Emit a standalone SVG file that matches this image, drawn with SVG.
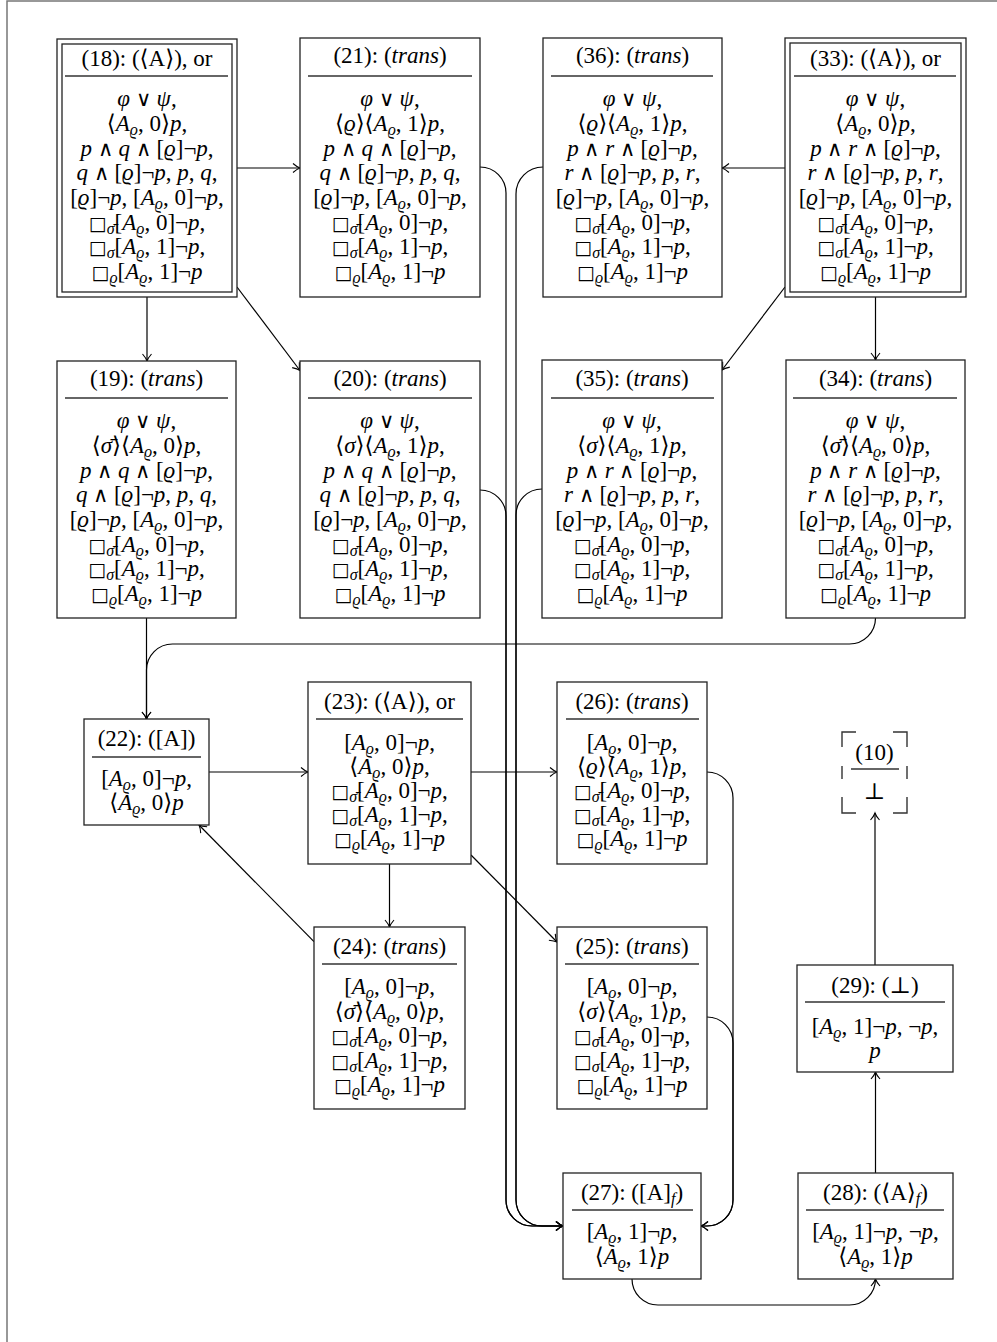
<svg xmlns="http://www.w3.org/2000/svg" width="997" height="1342" viewBox="0 0 997 1342">
<style>
.bx{fill:#fff;stroke:#222;stroke-width:1.3}
.sp{stroke:#333;stroke-width:1.4}
.t{font-family:"Liberation Serif","DejaVu Serif","DejaVu Sans",serif;font-size:23px;text-anchor:middle;fill:#000}
.i{font-style:italic}
.s{font-size:16px}
.q{font-family:"DejaVu Sans",sans-serif;font-size:19px;font-style:normal;fill:#000}
.o{font-family:"DejaVu Sans",sans-serif;font-weight:200;font-size:21px}
.c{fill:none;stroke:#000;stroke-width:1.2;marker-end:url(#ah)}
.fr{fill:none;stroke:#777;stroke-width:1.5}
.dh{fill:none;stroke:#333;stroke-width:1.4}
</style>
<defs>
<marker id="ah" markerUnits="userSpaceOnUse" viewBox="-9 -6 10 12" refX="0" refY="0" markerWidth="10" markerHeight="12" orient="auto" overflow="visible">
<path d="M-7,-4.5 Q-3,-1 0,0 Q-3,1 -7,4.5" fill="none" stroke="#000" stroke-width="1.1"/>
</marker>
</defs>
<rect x="0" y="0" width="997" height="1342" fill="#fff"/>
<path class="fr" d="M7,1342 V1 H997"/>

<g id="connectors">
<path class="c" d="M237,168 H300"/>
<path class="c" d="M147,297 V361"/>
<path class="c" d="M237,287 L300,370.5"/>
<path class="c" d="M785,168 H722"/>
<path class="c" d="M875.5,297 V360"/>
<path class="c" d="M785,287 L722,370"/>
<path class="c" d="M480,167 A26,26 0 0 1 506,193 V1200 A26,26 0 0 0 532,1226 H563"/>
<path class="c" d="M480,490 A26,26 0 0 1 506,516 V1200 A26,26 0 0 0 532,1226 H563"/>
<path class="c" d="M543,167 A27,27 0 0 0 516,194 V1200 A26,26 0 0 0 542,1226 H563"/>
<path class="c" d="M542,489 A26,26 0 0 0 516,515 V1200 A26,26 0 0 0 542,1226 H563"/>
<path class="c" d="M707,772 A26,26 0 0 1 733,798 V1200 A26,26 0 0 1 707,1226 H701"/>
<path class="c" d="M707,1017 A26,26 0 0 1 733,1043 V1200 A26,26 0 0 1 707,1226 H701"/>
<path class="c" d="M209,772 H308"/>
<path class="c" d="M471,772 H557"/>
<path class="c" d="M389.5,864 V927"/>
<path class="c" d="M471,855 L557,942"/>
<path class="c" d="M314,941.6 L199,825"/>
<path class="c" d="M146.5,618 V719"/>
<path class="c" d="M875.5,618 A26,26 0 0 1 849.5,644 H172.5 A26,26 0 0 0 146.5,670 V719"/>
<path class="c" d="M632,1279 A26,26 0 0 0 658,1305 H849.5 A26,26 0 0 0 875.5,1279"/>
<path class="c" d="M875.5,1173 V1072"/>
<path class="c" d="M875,965 V813"/>
</g>

<g id="n18">
<rect class="bx" x="57" y="39" width="180" height="258"/>
<rect class="bx" x="62" y="44" width="170" height="248"/>
<text class="t" x="147" y="66">(18): (⟨A⟩), or</text>
<line class="sp" x1="65" y1="76" x2="228" y2="76"/>
<text class="t" x="147" y="106"><tspan class="i">φ</tspan> <tspan class="o">∨</tspan> <tspan class="i">ψ</tspan>,</text>
<text class="t" x="147" y="131">⟨<tspan class="i">A</tspan><tspan class="s i" dy="4">ϱ</tspan><tspan dy="-4">, 0⟩</tspan><tspan class="i">p</tspan>,</text>
<text class="t" x="147" y="155.5"><tspan class="i">p</tspan> <tspan class="o">∧</tspan> <tspan class="i">q</tspan> <tspan class="o">∧</tspan> [<tspan class="i">ϱ</tspan>]¬<tspan class="i">p</tspan>,</text>
<text class="t" x="147" y="180"><tspan class="i">q</tspan> <tspan class="o">∧</tspan> [<tspan class="i">ϱ</tspan>]¬<tspan class="i">p</tspan>, <tspan class="i">p</tspan>, <tspan class="i">q</tspan>,</text>
<text class="t" x="147" y="205">[<tspan class="i">ϱ</tspan>]¬<tspan class="i">p</tspan>, [<tspan class="i">A</tspan><tspan class="s i" dy="4">ϱ</tspan><tspan dy="-4">, 0]¬</tspan><tspan class="i">p</tspan>,</text>
<text class="t" x="147" y="229.5"><tspan class="q">□</tspan><tspan class="s i" dy="4">σ̄</tspan><tspan dy="-4">[</tspan><tspan class="i">A</tspan><tspan class="s i" dy="4">ϱ</tspan><tspan dy="-4">, 0]¬</tspan><tspan class="i">p</tspan>,</text>
<text class="t" x="147" y="254"><tspan class="q">□</tspan><tspan class="s i" dy="4">σ</tspan><tspan dy="-4">[</tspan><tspan class="i">A</tspan><tspan class="s i" dy="4">ϱ</tspan><tspan dy="-4">, 1]¬</tspan><tspan class="i">p</tspan>,</text>
<text class="t" x="147" y="279"><tspan class="q">□</tspan><tspan class="s i" dy="4">ϱ</tspan><tspan dy="-4">[</tspan><tspan class="i">A</tspan><tspan class="s i" dy="4">ϱ</tspan><tspan dy="-4">, 1]¬</tspan><tspan class="i">p</tspan></text>
</g>

<g id="n21">
<rect class="bx" x="300" y="38" width="180" height="259"/>
<text class="t" x="390" y="63">(21): (<tspan class="i">trans</tspan>)</text>
<line class="sp" x1="308" y1="76" x2="472" y2="76"/>
<text class="t" x="390" y="106"><tspan class="i">φ</tspan> <tspan class="o">∨</tspan> <tspan class="i">ψ</tspan>,</text>
<text class="t" x="390" y="131">⟨<tspan class="i">ϱ</tspan>⟩⟨<tspan class="i">A</tspan><tspan class="s i" dy="4">ϱ</tspan><tspan dy="-4">, 1⟩</tspan><tspan class="i">p</tspan>,</text>
<text class="t" x="390" y="155.5"><tspan class="i">p</tspan> <tspan class="o">∧</tspan> <tspan class="i">q</tspan> <tspan class="o">∧</tspan> [<tspan class="i">ϱ</tspan>]¬<tspan class="i">p</tspan>,</text>
<text class="t" x="390" y="180"><tspan class="i">q</tspan> <tspan class="o">∧</tspan> [<tspan class="i">ϱ</tspan>]¬<tspan class="i">p</tspan>, <tspan class="i">p</tspan>, <tspan class="i">q</tspan>,</text>
<text class="t" x="390" y="205">[<tspan class="i">ϱ</tspan>]¬<tspan class="i">p</tspan>, [<tspan class="i">A</tspan><tspan class="s i" dy="4">ϱ</tspan><tspan dy="-4">, 0]¬</tspan><tspan class="i">p</tspan>,</text>
<text class="t" x="390" y="229.5"><tspan class="q">□</tspan><tspan class="s i" dy="4">σ̄</tspan><tspan dy="-4">[</tspan><tspan class="i">A</tspan><tspan class="s i" dy="4">ϱ</tspan><tspan dy="-4">, 0]¬</tspan><tspan class="i">p</tspan>,</text>
<text class="t" x="390" y="254"><tspan class="q">□</tspan><tspan class="s i" dy="4">σ</tspan><tspan dy="-4">[</tspan><tspan class="i">A</tspan><tspan class="s i" dy="4">ϱ</tspan><tspan dy="-4">, 1]¬</tspan><tspan class="i">p</tspan>,</text>
<text class="t" x="390" y="279"><tspan class="q">□</tspan><tspan class="s i" dy="4">ϱ</tspan><tspan dy="-4">[</tspan><tspan class="i">A</tspan><tspan class="s i" dy="4">ϱ</tspan><tspan dy="-4">, 1]¬</tspan><tspan class="i">p</tspan></text>
</g>

<g id="n36">
<rect class="bx" x="543" y="38" width="179" height="259"/>
<text class="t" x="632.5" y="63">(36): (<tspan class="i">trans</tspan>)</text>
<line class="sp" x1="551" y1="76" x2="713" y2="76"/>
<text class="t" x="632.5" y="106"><tspan class="i">φ</tspan> <tspan class="o">∨</tspan> <tspan class="i">ψ</tspan>,</text>
<text class="t" x="632.5" y="131">⟨<tspan class="i">ϱ</tspan>⟩⟨<tspan class="i">A</tspan><tspan class="s i" dy="4">ϱ</tspan><tspan dy="-4">, 1⟩</tspan><tspan class="i">p</tspan>,</text>
<text class="t" x="632.5" y="155.5"><tspan class="i">p</tspan> <tspan class="o">∧</tspan> <tspan class="i">r</tspan> <tspan class="o">∧</tspan> [<tspan class="i">ϱ</tspan>]¬<tspan class="i">p</tspan>,</text>
<text class="t" x="632.5" y="180"><tspan class="i">r</tspan> <tspan class="o">∧</tspan> [<tspan class="i">ϱ</tspan>]¬<tspan class="i">p</tspan>, <tspan class="i">p</tspan>, <tspan class="i">r</tspan>,</text>
<text class="t" x="632.5" y="205">[<tspan class="i">ϱ</tspan>]¬<tspan class="i">p</tspan>, [<tspan class="i">A</tspan><tspan class="s i" dy="4">ϱ</tspan><tspan dy="-4">, 0]¬</tspan><tspan class="i">p</tspan>,</text>
<text class="t" x="632.5" y="229.5"><tspan class="q">□</tspan><tspan class="s i" dy="4">σ̄</tspan><tspan dy="-4">[</tspan><tspan class="i">A</tspan><tspan class="s i" dy="4">ϱ</tspan><tspan dy="-4">, 0]¬</tspan><tspan class="i">p</tspan>,</text>
<text class="t" x="632.5" y="254"><tspan class="q">□</tspan><tspan class="s i" dy="4">σ</tspan><tspan dy="-4">[</tspan><tspan class="i">A</tspan><tspan class="s i" dy="4">ϱ</tspan><tspan dy="-4">, 1]¬</tspan><tspan class="i">p</tspan>,</text>
<text class="t" x="632.5" y="279"><tspan class="q">□</tspan><tspan class="s i" dy="4">ϱ</tspan><tspan dy="-4">[</tspan><tspan class="i">A</tspan><tspan class="s i" dy="4">ϱ</tspan><tspan dy="-4">, 1]¬</tspan><tspan class="i">p</tspan></text>
</g>

<g id="n33">
<rect class="bx" x="785" y="38" width="181" height="259"/>
<rect class="bx" x="790" y="43" width="171" height="249"/>
<text class="t" x="875.5" y="66">(33): (⟨A⟩), or</text>
<line class="sp" x1="794" y1="76" x2="956" y2="76"/>
<text class="t" x="875.5" y="106"><tspan class="i">φ</tspan> <tspan class="o">∨</tspan> <tspan class="i">ψ</tspan>,</text>
<text class="t" x="875.5" y="131">⟨<tspan class="i">A</tspan><tspan class="s i" dy="4">ϱ</tspan><tspan dy="-4">, 0⟩</tspan><tspan class="i">p</tspan>,</text>
<text class="t" x="875.5" y="155.5"><tspan class="i">p</tspan> <tspan class="o">∧</tspan> <tspan class="i">r</tspan> <tspan class="o">∧</tspan> [<tspan class="i">ϱ</tspan>]¬<tspan class="i">p</tspan>,</text>
<text class="t" x="875.5" y="180"><tspan class="i">r</tspan> <tspan class="o">∧</tspan> [<tspan class="i">ϱ</tspan>]¬<tspan class="i">p</tspan>, <tspan class="i">p</tspan>, <tspan class="i">r</tspan>,</text>
<text class="t" x="875.5" y="205">[<tspan class="i">ϱ</tspan>]¬<tspan class="i">p</tspan>, [<tspan class="i">A</tspan><tspan class="s i" dy="4">ϱ</tspan><tspan dy="-4">, 0]¬</tspan><tspan class="i">p</tspan>,</text>
<text class="t" x="875.5" y="229.5"><tspan class="q">□</tspan><tspan class="s i" dy="4">σ̄</tspan><tspan dy="-4">[</tspan><tspan class="i">A</tspan><tspan class="s i" dy="4">ϱ</tspan><tspan dy="-4">, 0]¬</tspan><tspan class="i">p</tspan>,</text>
<text class="t" x="875.5" y="254"><tspan class="q">□</tspan><tspan class="s i" dy="4">σ</tspan><tspan dy="-4">[</tspan><tspan class="i">A</tspan><tspan class="s i" dy="4">ϱ</tspan><tspan dy="-4">, 1]¬</tspan><tspan class="i">p</tspan>,</text>
<text class="t" x="875.5" y="279"><tspan class="q">□</tspan><tspan class="s i" dy="4">ϱ</tspan><tspan dy="-4">[</tspan><tspan class="i">A</tspan><tspan class="s i" dy="4">ϱ</tspan><tspan dy="-4">, 1]¬</tspan><tspan class="i">p</tspan></text>
</g>

<g id="n19">
<rect class="bx" x="57" y="361" width="179" height="257"/>
<text class="t" x="146.5" y="386">(19): (<tspan class="i">trans</tspan>)</text>
<line class="sp" x1="65" y1="398" x2="228" y2="398"/>
<text class="t" x="146.5" y="428"><tspan class="i">φ</tspan> <tspan class="o">∨</tspan> <tspan class="i">ψ</tspan>,</text>
<text class="t" x="146.5" y="453">⟨<tspan class="i">σ̄</tspan>⟩⟨<tspan class="i">A</tspan><tspan class="s i" dy="4">ϱ</tspan><tspan dy="-4">, 0⟩</tspan><tspan class="i">p</tspan>,</text>
<text class="t" x="146.5" y="477.5"><tspan class="i">p</tspan> <tspan class="o">∧</tspan> <tspan class="i">q</tspan> <tspan class="o">∧</tspan> [<tspan class="i">ϱ</tspan>]¬<tspan class="i">p</tspan>,</text>
<text class="t" x="146.5" y="502"><tspan class="i">q</tspan> <tspan class="o">∧</tspan> [<tspan class="i">ϱ</tspan>]¬<tspan class="i">p</tspan>, <tspan class="i">p</tspan>, <tspan class="i">q</tspan>,</text>
<text class="t" x="146.5" y="527">[<tspan class="i">ϱ</tspan>]¬<tspan class="i">p</tspan>, [<tspan class="i">A</tspan><tspan class="s i" dy="4">ϱ</tspan><tspan dy="-4">, 0]¬</tspan><tspan class="i">p</tspan>,</text>
<text class="t" x="146.5" y="551.5"><tspan class="q">□</tspan><tspan class="s i" dy="4">σ̄</tspan><tspan dy="-4">[</tspan><tspan class="i">A</tspan><tspan class="s i" dy="4">ϱ</tspan><tspan dy="-4">, 0]¬</tspan><tspan class="i">p</tspan>,</text>
<text class="t" x="146.5" y="576"><tspan class="q">□</tspan><tspan class="s i" dy="4">σ</tspan><tspan dy="-4">[</tspan><tspan class="i">A</tspan><tspan class="s i" dy="4">ϱ</tspan><tspan dy="-4">, 1]¬</tspan><tspan class="i">p</tspan>,</text>
<text class="t" x="146.5" y="601"><tspan class="q">□</tspan><tspan class="s i" dy="4">ϱ</tspan><tspan dy="-4">[</tspan><tspan class="i">A</tspan><tspan class="s i" dy="4">ϱ</tspan><tspan dy="-4">, 1]¬</tspan><tspan class="i">p</tspan></text>
</g>

<g id="n20">
<rect class="bx" x="300" y="361" width="180" height="257"/>
<text class="t" x="390" y="386">(20): (<tspan class="i">trans</tspan>)</text>
<line class="sp" x1="308" y1="398" x2="472" y2="398"/>
<text class="t" x="390" y="428"><tspan class="i">φ</tspan> <tspan class="o">∨</tspan> <tspan class="i">ψ</tspan>,</text>
<text class="t" x="390" y="453">⟨<tspan class="i">σ</tspan>⟩⟨<tspan class="i">A</tspan><tspan class="s i" dy="4">ϱ</tspan><tspan dy="-4">, 1⟩</tspan><tspan class="i">p</tspan>,</text>
<text class="t" x="390" y="477.5"><tspan class="i">p</tspan> <tspan class="o">∧</tspan> <tspan class="i">q</tspan> <tspan class="o">∧</tspan> [<tspan class="i">ϱ</tspan>]¬<tspan class="i">p</tspan>,</text>
<text class="t" x="390" y="502"><tspan class="i">q</tspan> <tspan class="o">∧</tspan> [<tspan class="i">ϱ</tspan>]¬<tspan class="i">p</tspan>, <tspan class="i">p</tspan>, <tspan class="i">q</tspan>,</text>
<text class="t" x="390" y="527">[<tspan class="i">ϱ</tspan>]¬<tspan class="i">p</tspan>, [<tspan class="i">A</tspan><tspan class="s i" dy="4">ϱ</tspan><tspan dy="-4">, 0]¬</tspan><tspan class="i">p</tspan>,</text>
<text class="t" x="390" y="551.5"><tspan class="q">□</tspan><tspan class="s i" dy="4">σ̄</tspan><tspan dy="-4">[</tspan><tspan class="i">A</tspan><tspan class="s i" dy="4">ϱ</tspan><tspan dy="-4">, 0]¬</tspan><tspan class="i">p</tspan>,</text>
<text class="t" x="390" y="576"><tspan class="q">□</tspan><tspan class="s i" dy="4">σ</tspan><tspan dy="-4">[</tspan><tspan class="i">A</tspan><tspan class="s i" dy="4">ϱ</tspan><tspan dy="-4">, 1]¬</tspan><tspan class="i">p</tspan>,</text>
<text class="t" x="390" y="601"><tspan class="q">□</tspan><tspan class="s i" dy="4">ϱ</tspan><tspan dy="-4">[</tspan><tspan class="i">A</tspan><tspan class="s i" dy="4">ϱ</tspan><tspan dy="-4">, 1]¬</tspan><tspan class="i">p</tspan></text>
</g>

<g id="n35">
<rect class="bx" x="542" y="360" width="180" height="258"/>
<text class="t" x="632" y="386">(35): (<tspan class="i">trans</tspan>)</text>
<line class="sp" x1="551" y1="398" x2="714" y2="398"/>
<text class="t" x="632" y="428"><tspan class="i">φ</tspan> <tspan class="o">∨</tspan> <tspan class="i">ψ</tspan>,</text>
<text class="t" x="632" y="453">⟨<tspan class="i">σ</tspan>⟩⟨<tspan class="i">A</tspan><tspan class="s i" dy="4">ϱ</tspan><tspan dy="-4">, 1⟩</tspan><tspan class="i">p</tspan>,</text>
<text class="t" x="632" y="477.5"><tspan class="i">p</tspan> <tspan class="o">∧</tspan> <tspan class="i">r</tspan> <tspan class="o">∧</tspan> [<tspan class="i">ϱ</tspan>]¬<tspan class="i">p</tspan>,</text>
<text class="t" x="632" y="502"><tspan class="i">r</tspan> <tspan class="o">∧</tspan> [<tspan class="i">ϱ</tspan>]¬<tspan class="i">p</tspan>, <tspan class="i">p</tspan>, <tspan class="i">r</tspan>,</text>
<text class="t" x="632" y="527">[<tspan class="i">ϱ</tspan>]¬<tspan class="i">p</tspan>, [<tspan class="i">A</tspan><tspan class="s i" dy="4">ϱ</tspan><tspan dy="-4">, 0]¬</tspan><tspan class="i">p</tspan>,</text>
<text class="t" x="632" y="551.5"><tspan class="q">□</tspan><tspan class="s i" dy="4">σ̄</tspan><tspan dy="-4">[</tspan><tspan class="i">A</tspan><tspan class="s i" dy="4">ϱ</tspan><tspan dy="-4">, 0]¬</tspan><tspan class="i">p</tspan>,</text>
<text class="t" x="632" y="576"><tspan class="q">□</tspan><tspan class="s i" dy="4">σ</tspan><tspan dy="-4">[</tspan><tspan class="i">A</tspan><tspan class="s i" dy="4">ϱ</tspan><tspan dy="-4">, 1]¬</tspan><tspan class="i">p</tspan>,</text>
<text class="t" x="632" y="601"><tspan class="q">□</tspan><tspan class="s i" dy="4">ϱ</tspan><tspan dy="-4">[</tspan><tspan class="i">A</tspan><tspan class="s i" dy="4">ϱ</tspan><tspan dy="-4">, 1]¬</tspan><tspan class="i">p</tspan></text>
</g>

<g id="n34">
<rect class="bx" x="786" y="360" width="179" height="258"/>
<text class="t" x="875.5" y="386">(34): (<tspan class="i">trans</tspan>)</text>
<line class="sp" x1="793" y1="398" x2="957" y2="398"/>
<text class="t" x="875.5" y="428"><tspan class="i">φ</tspan> <tspan class="o">∨</tspan> <tspan class="i">ψ</tspan>,</text>
<text class="t" x="875.5" y="453">⟨<tspan class="i">σ̄</tspan>⟩⟨<tspan class="i">A</tspan><tspan class="s i" dy="4">ϱ</tspan><tspan dy="-4">, 0⟩</tspan><tspan class="i">p</tspan>,</text>
<text class="t" x="875.5" y="477.5"><tspan class="i">p</tspan> <tspan class="o">∧</tspan> <tspan class="i">r</tspan> <tspan class="o">∧</tspan> [<tspan class="i">ϱ</tspan>]¬<tspan class="i">p</tspan>,</text>
<text class="t" x="875.5" y="502"><tspan class="i">r</tspan> <tspan class="o">∧</tspan> [<tspan class="i">ϱ</tspan>]¬<tspan class="i">p</tspan>, <tspan class="i">p</tspan>, <tspan class="i">r</tspan>,</text>
<text class="t" x="875.5" y="527">[<tspan class="i">ϱ</tspan>]¬<tspan class="i">p</tspan>, [<tspan class="i">A</tspan><tspan class="s i" dy="4">ϱ</tspan><tspan dy="-4">, 0]¬</tspan><tspan class="i">p</tspan>,</text>
<text class="t" x="875.5" y="551.5"><tspan class="q">□</tspan><tspan class="s i" dy="4">σ̄</tspan><tspan dy="-4">[</tspan><tspan class="i">A</tspan><tspan class="s i" dy="4">ϱ</tspan><tspan dy="-4">, 0]¬</tspan><tspan class="i">p</tspan>,</text>
<text class="t" x="875.5" y="576"><tspan class="q">□</tspan><tspan class="s i" dy="4">σ</tspan><tspan dy="-4">[</tspan><tspan class="i">A</tspan><tspan class="s i" dy="4">ϱ</tspan><tspan dy="-4">, 1]¬</tspan><tspan class="i">p</tspan>,</text>
<text class="t" x="875.5" y="601"><tspan class="q">□</tspan><tspan class="s i" dy="4">ϱ</tspan><tspan dy="-4">[</tspan><tspan class="i">A</tspan><tspan class="s i" dy="4">ϱ</tspan><tspan dy="-4">, 1]¬</tspan><tspan class="i">p</tspan></text>
</g>

<g id="n22">
<rect class="bx" x="84" y="719" width="125" height="106"/>
<text class="t" x="146.5" y="746">(22): ([A])</text>
<line class="sp" x1="92" y1="757" x2="201" y2="757"/>
<text class="t" x="146.5" y="786">[<tspan class="i">A</tspan><tspan class="s i" dy="4">ϱ</tspan><tspan dy="-4">, 0]¬</tspan><tspan class="i">p</tspan>,</text>
<text class="t" x="146.5" y="810">⟨<tspan class="i">A</tspan><tspan class="s i" dy="4">ϱ</tspan><tspan dy="-4">, 0⟩</tspan><tspan class="i">p</tspan></text>
</g>

<g id="n23">
<rect class="bx" x="308" y="682" width="163" height="182"/>
<text class="t" x="389.5" y="709">(23): (⟨A⟩), or</text>
<line class="sp" x1="316" y1="719" x2="463" y2="719"/>
<text class="t" x="389.5" y="750">[<tspan class="i">A</tspan><tspan class="s i" dy="4">ϱ</tspan><tspan dy="-4">, 0]¬</tspan><tspan class="i">p</tspan>,</text>
<text class="t" x="389.5" y="774">⟨<tspan class="i">A</tspan><tspan class="s i" dy="4">ϱ</tspan><tspan dy="-4">, 0⟩</tspan><tspan class="i">p</tspan>,</text>
<text class="t" x="389.5" y="798"><tspan class="q">□</tspan><tspan class="s i" dy="4">σ̄</tspan><tspan dy="-4">[</tspan><tspan class="i">A</tspan><tspan class="s i" dy="4">ϱ</tspan><tspan dy="-4">, 0]¬</tspan><tspan class="i">p</tspan>,</text>
<text class="t" x="389.5" y="822"><tspan class="q">□</tspan><tspan class="s i" dy="4">σ</tspan><tspan dy="-4">[</tspan><tspan class="i">A</tspan><tspan class="s i" dy="4">ϱ</tspan><tspan dy="-4">, 1]¬</tspan><tspan class="i">p</tspan>,</text>
<text class="t" x="389.5" y="846"><tspan class="q">□</tspan><tspan class="s i" dy="4">ϱ</tspan><tspan dy="-4">[</tspan><tspan class="i">A</tspan><tspan class="s i" dy="4">ϱ</tspan><tspan dy="-4">, 1]¬</tspan><tspan class="i">p</tspan></text>
</g>

<g id="n26">
<rect class="bx" x="557" y="682" width="150" height="182"/>
<text class="t" x="632" y="709">(26): (<tspan class="i">trans</tspan>)</text>
<line class="sp" x1="566" y1="719" x2="699" y2="719"/>
<text class="t" x="632" y="750">[<tspan class="i">A</tspan><tspan class="s i" dy="4">ϱ</tspan><tspan dy="-4">, 0]¬</tspan><tspan class="i">p</tspan>,</text>
<text class="t" x="632" y="774">⟨<tspan class="i">ϱ</tspan>⟩⟨<tspan class="i">A</tspan><tspan class="s i" dy="4">ϱ</tspan><tspan dy="-4">, 1⟩</tspan><tspan class="i">p</tspan>,</text>
<text class="t" x="632" y="798"><tspan class="q">□</tspan><tspan class="s i" dy="4">σ̄</tspan><tspan dy="-4">[</tspan><tspan class="i">A</tspan><tspan class="s i" dy="4">ϱ</tspan><tspan dy="-4">, 0]¬</tspan><tspan class="i">p</tspan>,</text>
<text class="t" x="632" y="822"><tspan class="q">□</tspan><tspan class="s i" dy="4">σ</tspan><tspan dy="-4">[</tspan><tspan class="i">A</tspan><tspan class="s i" dy="4">ϱ</tspan><tspan dy="-4">, 1]¬</tspan><tspan class="i">p</tspan>,</text>
<text class="t" x="632" y="846"><tspan class="q">□</tspan><tspan class="s i" dy="4">ϱ</tspan><tspan dy="-4">[</tspan><tspan class="i">A</tspan><tspan class="s i" dy="4">ϱ</tspan><tspan dy="-4">, 1]¬</tspan><tspan class="i">p</tspan></text>
</g>

<g id="n10">
<path class="dh" d="M842,747 V732 H856 M893,732 H907 V747 M842,797 V813 H856 M893,813 H907 V797 M842,766 V779 M907,766 V779"/>
<text class="t" x="874.5" y="760">(10)</text>
<line class="sp" x1="851" y1="769" x2="899" y2="769"/>
<text class="t" x="874.5" y="799">⊥</text>
</g>

<g id="n24">
<rect class="bx" x="314" y="927" width="151" height="182"/>
<text class="t" x="389.5" y="954">(24): (<tspan class="i">trans</tspan>)</text>
<line class="sp" x1="322" y1="964" x2="457" y2="964"/>
<text class="t" x="389.5" y="994">[<tspan class="i">A</tspan><tspan class="s i" dy="4">ϱ</tspan><tspan dy="-4">, 0]¬</tspan><tspan class="i">p</tspan>,</text>
<text class="t" x="389.5" y="1018.5">⟨<tspan class="i">σ̄</tspan>⟩⟨<tspan class="i">A</tspan><tspan class="s i" dy="4">ϱ</tspan><tspan dy="-4">, 0⟩</tspan><tspan class="i">p</tspan>,</text>
<text class="t" x="389.5" y="1043"><tspan class="q">□</tspan><tspan class="s i" dy="4">σ̄</tspan><tspan dy="-4">[</tspan><tspan class="i">A</tspan><tspan class="s i" dy="4">ϱ</tspan><tspan dy="-4">, 0]¬</tspan><tspan class="i">p</tspan>,</text>
<text class="t" x="389.5" y="1067.5"><tspan class="q">□</tspan><tspan class="s i" dy="4">σ</tspan><tspan dy="-4">[</tspan><tspan class="i">A</tspan><tspan class="s i" dy="4">ϱ</tspan><tspan dy="-4">, 1]¬</tspan><tspan class="i">p</tspan>,</text>
<text class="t" x="389.5" y="1092"><tspan class="q">□</tspan><tspan class="s i" dy="4">ϱ</tspan><tspan dy="-4">[</tspan><tspan class="i">A</tspan><tspan class="s i" dy="4">ϱ</tspan><tspan dy="-4">, 1]¬</tspan><tspan class="i">p</tspan></text>
</g>

<g id="n25">
<rect class="bx" x="557" y="927" width="150" height="182"/>
<text class="t" x="632" y="954">(25): (<tspan class="i">trans</tspan>)</text>
<line class="sp" x1="565" y1="964" x2="699" y2="964"/>
<text class="t" x="632" y="994">[<tspan class="i">A</tspan><tspan class="s i" dy="4">ϱ</tspan><tspan dy="-4">, 0]¬</tspan><tspan class="i">p</tspan>,</text>
<text class="t" x="632" y="1018.5">⟨<tspan class="i">σ</tspan>⟩⟨<tspan class="i">A</tspan><tspan class="s i" dy="4">ϱ</tspan><tspan dy="-4">, 1⟩</tspan><tspan class="i">p</tspan>,</text>
<text class="t" x="632" y="1043"><tspan class="q">□</tspan><tspan class="s i" dy="4">σ̄</tspan><tspan dy="-4">[</tspan><tspan class="i">A</tspan><tspan class="s i" dy="4">ϱ</tspan><tspan dy="-4">, 0]¬</tspan><tspan class="i">p</tspan>,</text>
<text class="t" x="632" y="1067.5"><tspan class="q">□</tspan><tspan class="s i" dy="4">σ</tspan><tspan dy="-4">[</tspan><tspan class="i">A</tspan><tspan class="s i" dy="4">ϱ</tspan><tspan dy="-4">, 1]¬</tspan><tspan class="i">p</tspan>,</text>
<text class="t" x="632" y="1092"><tspan class="q">□</tspan><tspan class="s i" dy="4">ϱ</tspan><tspan dy="-4">[</tspan><tspan class="i">A</tspan><tspan class="s i" dy="4">ϱ</tspan><tspan dy="-4">, 1]¬</tspan><tspan class="i">p</tspan></text>
</g>

<g id="n29">
<rect class="bx" x="797" y="965" width="156" height="107"/>
<text class="t" x="875" y="993">(29): (⊥)</text>
<line class="sp" x1="805" y1="1002" x2="945" y2="1002"/>
<text class="t" x="875" y="1034">[<tspan class="i">A</tspan><tspan class="s i" dy="4">ϱ</tspan><tspan dy="-4">, 1]¬</tspan><tspan class="i">p</tspan>, ¬<tspan class="i">p</tspan>,</text>
<text class="t" x="875" y="1058"><tspan class="i">p</tspan></text>
</g>

<g id="n27">
<rect class="bx" x="563" y="1173" width="138" height="106"/>
<text class="t" x="632" y="1200">(27): ([A]<tspan class="s i" dy="4">f</tspan><tspan dy="-4">)</tspan></text>
<line class="sp" x1="572" y1="1210" x2="693" y2="1210"/>
<text class="t" x="632" y="1239">[<tspan class="i">A</tspan><tspan class="s i" dy="4">ϱ</tspan><tspan dy="-4">, 1]¬</tspan><tspan class="i">p</tspan>,</text>
<text class="t" x="632" y="1264">⟨<tspan class="i">A</tspan><tspan class="s i" dy="4">ϱ</tspan><tspan dy="-4">, 1⟩</tspan><tspan class="i">p</tspan></text>
</g>

<g id="n28">
<rect class="bx" x="798" y="1173" width="155" height="106"/>
<text class="t" x="875.5" y="1200">(28): (⟨A⟩<tspan class="s i" dy="4">f</tspan><tspan dy="-4">)</tspan></text>
<line class="sp" x1="806" y1="1210" x2="944" y2="1210"/>
<text class="t" x="875.5" y="1239">[<tspan class="i">A</tspan><tspan class="s i" dy="4">ϱ</tspan><tspan dy="-4">, 1]¬</tspan><tspan class="i">p</tspan>, ¬<tspan class="i">p</tspan>,</text>
<text class="t" x="875.5" y="1264">⟨<tspan class="i">A</tspan><tspan class="s i" dy="4">ϱ</tspan><tspan dy="-4">, 1⟩</tspan><tspan class="i">p</tspan></text>
</g>
</svg>
